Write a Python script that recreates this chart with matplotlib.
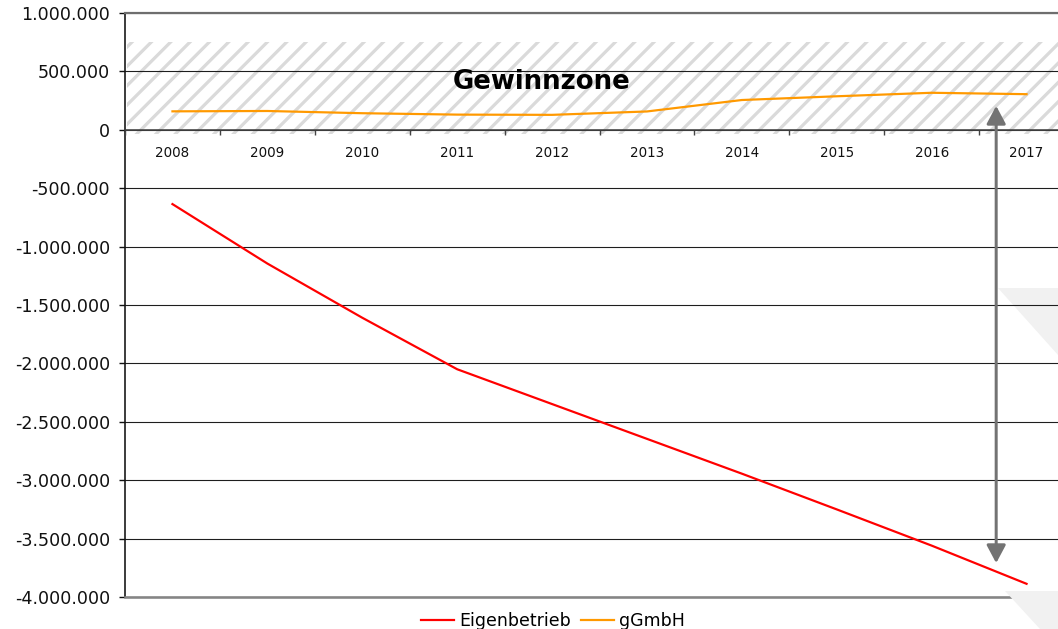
import matplotlib
matplotlib.use("Agg")
import matplotlib.pyplot as plt
import matplotlib.ticker as mticker
from matplotlib.patches import Polygon

# Jahresergebnisse in Euro
years = [2008, 2009, 2010, 2011, 2012, 2013, 2014, 2015, 2016, 2017]
eigenbetrieb = [-636000, -1145000, -1609000, -2050000, -2348000,
                -2646000, -2944000, -3250000, -3560000, -3887000]
ggmbh = [158000, 161000, 142000, 130000, 128000,
         157000, 255000, 287000, 317000, 305000]

series_names = ["Eigenbetrieb", "gGmbH"]
series_colors = ["#ff0000", "#ff9900"]

DPI = 116
W, H = 1058, 629
PT = 72 / DPI  # pixel -> point


def fig_xy(px, py):
    return (px / W, 1 - py / H)


def de_format(v, pos=None):
    return f"{int(round(v)):,}".replace(",", ".")


plt.rcParams["font.family"] = ["DejaVu Sans"]
plt.rcParams["hatch.linewidth"] = 3.2 * PT
plt.rcParams["hatch.color"] = "#dadada"

fig = plt.figure(figsize=(W / DPI, H / DPI), dpi=DPI)
fig.patch.set_facecolor("white")

# decorative light shapes at the right margin
fig.patches.append(Polygon([fig_xy(998, 288), fig_xy(1058, 288), fig_xy(1058, 355)],
                           closed=True, transform=fig.transFigure,
                           facecolor="#f1f1f1", edgecolor="none", zorder=-1))

ax = fig.add_axes([125 / W, (H - 597) / H, (1074 - 125) / W, (597 - 13) / H])
ax.set_facecolor("none")
ax.set_zorder(1)
ax.set_xlim(2007.5, 2017.5)
ax.set_ylim(-4000000, 1000000)

# "Gewinnzone" band
ax.axhspan(-37000, 750000, xmin=0.002, xmax=1, facecolor="white",
           edgecolor="#dadada", hatch="//", linewidth=0, zorder=1)
ax.text(2011.89, 347000, "Gewinnzone", ha="center", va="baseline",
        fontsize=26 * PT, fontweight="bold", color="black", zorder=5)

# grid lines and plot frame
ax.yaxis.set_major_locator(mticker.MultipleLocator(500000))
ax.yaxis.set_major_formatter(mticker.FuncFormatter(de_format))
ax.grid(axis="y", color="#1e1e1e", linewidth=1.1 * PT, zorder=2)
ax.set_axisbelow(False)
ax.axhline(1000000, color="#6e6e6e", linewidth=2.2 * PT, zorder=3, clip_on=False)
ax.axhline(-4000000, color="#858585", linewidth=2.6 * PT, zorder=3, clip_on=False)

for s in ["top", "right"]:
    ax.spines[s].set_visible(False)
ax.spines["left"].set_color("#111111")
ax.spines["left"].set_linewidth(1.6 * PT)
ax.spines["bottom"].set_position(("data", 0))
ax.spines["bottom"].set_color("#444444")
ax.spines["bottom"].set_linewidth(1.6 * PT)
ax.spines["bottom"].set_zorder(3)

ax.set_xticks(years)
ax.set_xticklabels([str(y) for y in years])
ax.set_xticks([y - 0.5 for y in years] + [years[-1] + 0.5], minor=True)
ax.tick_params(axis="x", which="major", length=0, pad=16.5 * PT,
               labelsize=13.5 * PT, labelcolor="#111111")
ax.tick_params(axis="x", which="minor", direction="out", length=5 * PT,
               width=1.4 * PT, color="#444444")
ax.tick_params(axis="y", direction="out", length=6 * PT, width=1.4 * PT,
               color="#111111", pad=9 * PT, labelsize=17.5 * PT,
               labelcolor="#111111")

# series
for vals, name, col in zip([eigenbetrieb, ggmbh], series_names, series_colors):
    ax.plot(years, vals, color=col, linewidth=2.2 * PT, label=name,
            solid_joinstyle="round", zorder=4)

# gap between the two variants
ax.annotate("", xy=(2016.68, 205000), xytext=(2016.68, -3710000),
            arrowprops=dict(arrowstyle="<|-|>,head_length=0.47,head_width=0.25",
                            color="#737373", lw=3 * PT, mutation_scale=20,
                            shrinkA=0, shrinkB=0),
            zorder=6)

ax.legend(loc="center", bbox_to_anchor=(553 / W, 1 - 621 / H),
          bbox_transform=fig.transFigure, ncol=2, frameon=False,
          fontsize=17.4 * PT, handlelength=1.9, handletextpad=0.3,
          columnspacing=0.6, borderpad=0)

fig.patches.append(Polygon([fig_xy(1005, 591), fig_xy(1058, 591), fig_xy(1058, 629),
                            fig_xy(1039.5, 629)],
                           closed=True, transform=fig.transFigure,
                           facecolor="#f1f1f1", edgecolor="none", zorder=10))

fig.savefig("out.png", dpi=DPI, facecolor="white")
